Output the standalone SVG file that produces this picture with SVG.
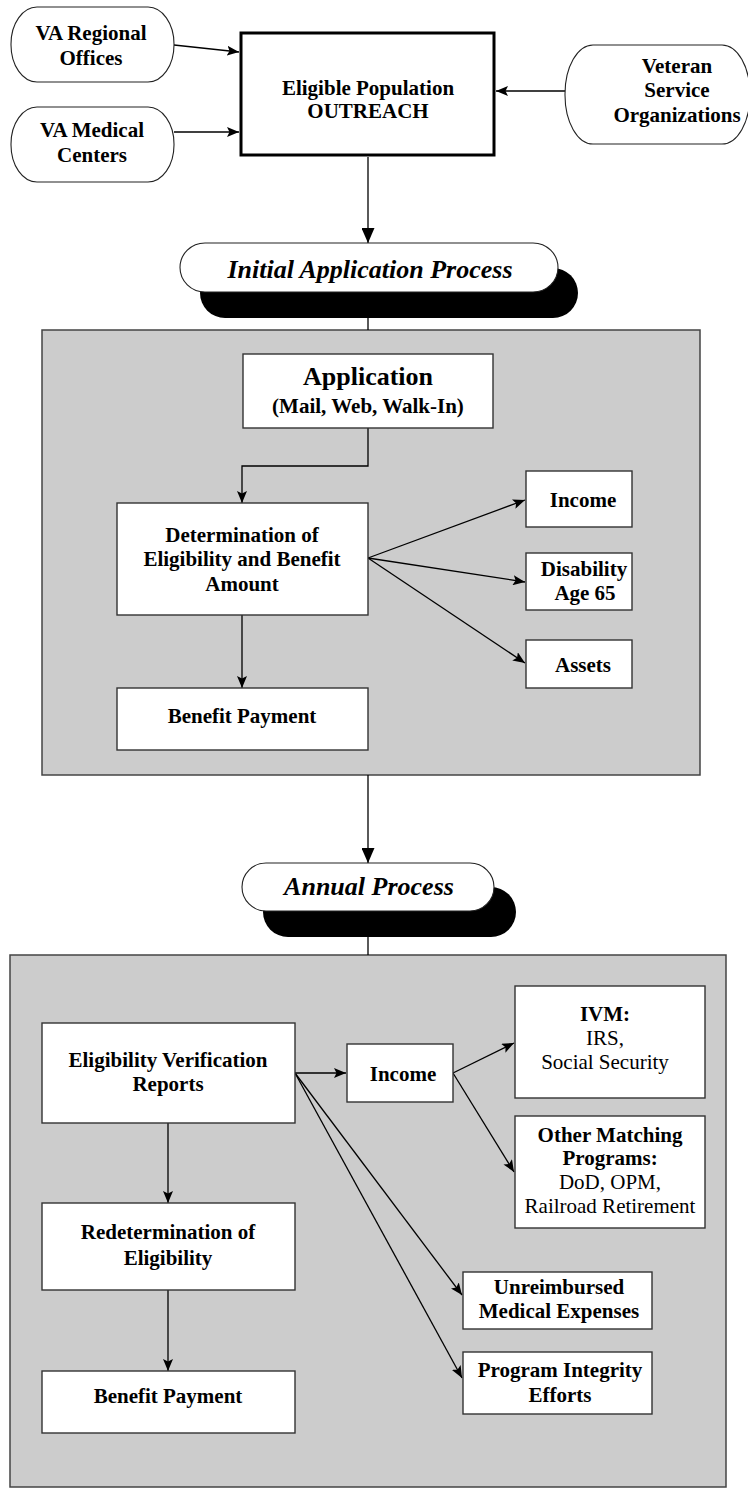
<svg xmlns="http://www.w3.org/2000/svg" width="748" height="1489" viewBox="0 0 748 1489">
  <style>
    .t { font-family: "Liberation Serif", "Times New Roman", serif; font-size: 21px; font-weight: bold; fill: #000; text-anchor: middle; }
    .r { font-weight: normal; }
    .big { font-size: 26px; }
    .stage { font-family: "Liberation Serif", "Times New Roman", serif; font-size: 26px; font-weight: bold; font-style: italic; fill: #000; text-anchor: middle; }
    .box { fill: #fff; stroke: #333; stroke-width: 1.4; }
    .oval { fill: #fff; stroke: #222; stroke-width: 1.1; }
    .panel { fill: #cccccc; stroke: #444; stroke-width: 1.5; }
    .pill { fill: #fff; stroke: #222; stroke-width: 1.1; }
    .shadow { fill: #000; }
    .c { fill: none; stroke: #000; stroke-width: 1.3; }
    .ca { fill: none; stroke: #000; stroke-width: 1.3; marker-end: url(#arrow); }
    .cb { fill: none; stroke: #000; stroke-width: 1.3; marker-end: url(#arrowBig); }
  </style>
  <defs>
    <marker id="arrow" viewBox="0 0 12 10" refX="12" refY="5" markerWidth="12" markerHeight="10" markerUnits="userSpaceOnUse" orient="auto">
      <path d="M0,0 L12,5 L0,10 L2.5,5 Z" fill="#000"/>
    </marker>
    <marker id="arrowBig" viewBox="0 0 15 13" refX="15" refY="6.5" markerWidth="15" markerHeight="13" markerUnits="userSpaceOnUse" orient="auto">
      <path d="M0,0 L15,6.5 L0,13 Z" fill="#000"/>
    </marker>
  </defs>

  <!-- process panels -->
  <rect id="panel-initial" class="panel" x="42" y="330" width="658" height="445"/>
  <rect id="panel-annual" class="panel" x="10" y="955" width="716" height="532"/>

  <!-- connectors -->
  <g id="connectors">
    <line class="ca" x1="174" y1="45" x2="239" y2="52"/>
    <line class="ca" x1="174" y1="132" x2="239" y2="132"/>
    <line class="ca" x1="565" y1="91" x2="496" y2="91"/>
    <line class="cb" x1="368" y1="157" x2="368" y2="243"/>
    <line class="c" x1="368" y1="318" x2="368" y2="330"/>
    <polyline class="ca" points="368,428 368,466 242,466 242,503"/>
    <line class="ca" x1="368" y1="558" x2="525" y2="500"/>
    <line class="ca" x1="368" y1="558" x2="525" y2="582"/>
    <line class="ca" x1="368" y1="558" x2="525" y2="663"/>
    <line class="ca" x1="242" y1="615" x2="242" y2="688"/>
    <line class="cb" x1="368" y1="775" x2="368" y2="863"/>
    <line class="c" x1="368" y1="937" x2="368" y2="955"/>
    <line class="ca" x1="295" y1="1073" x2="346" y2="1073"/>
    <line class="ca" x1="453" y1="1073" x2="514" y2="1043"/>
    <line class="ca" x1="453" y1="1073" x2="514" y2="1172"/>
    <line class="ca" x1="295" y1="1073" x2="462" y2="1295"/>
    <line class="ca" x1="295" y1="1073" x2="462" y2="1378"/>
    <line class="ca" x1="168" y1="1123" x2="168" y2="1203"/>
    <line class="ca" x1="168" y1="1290" x2="168" y2="1371"/>
  </g>

  <!-- outreach sources -->
  <g id="va-regional">
    <rect class="oval" x="11" y="7" width="163" height="75" rx="26" ry="37"/>
    <text class="t" x="91" y="40">VA Regional</text>
    <text class="t" x="91" y="65">Offices</text>
  </g>
  <g id="va-medical">
    <rect class="oval" x="11" y="107" width="163" height="75" rx="26" ry="37"/>
    <text class="t" x="92" y="137">VA Medical</text>
    <text class="t" x="92" y="162">Centers</text>
  </g>
  <g id="vso">
    <rect class="oval" x="565" y="45" width="185" height="99" rx="28" ry="49"/>
    <text class="t" x="677" y="73">Veteran</text>
    <text class="t" x="677" y="97">Service</text>
    <text class="t" x="677" y="122">Organizations</text>
  </g>
  <g id="outreach">
    <rect x="241" y="33" width="253" height="122" fill="#fff" stroke="#000" stroke-width="3"/>
    <text class="t" x="368" y="95">Eligible Population</text>
    <text class="t" x="368" y="118">OUTREACH</text>
  </g>

  <!-- initial application process -->
  <g id="stage-initial">
    <rect class="shadow" x="200" y="268" width="378" height="50" rx="25" ry="25"/>
    <rect class="pill" x="180" y="243" width="378" height="49" rx="25" ry="25"/>
    <text class="stage" x="370" y="278">Initial Application Process</text>
  </g>
  <g id="application">
    <rect class="box" x="243" y="354" width="250" height="74"/>
    <text class="t big" x="368" y="385">Application</text>
    <text class="t" x="368" y="413">(Mail, Web, Walk-In)</text>
  </g>
  <g id="determination">
    <rect class="box" x="117" y="503" width="251" height="112"/>
    <text class="t" x="242" y="542">Determination of</text>
    <text class="t" x="242" y="566">Eligibility and Benefit</text>
    <text class="t" x="242" y="591">Amount</text>
  </g>
  <g id="income-initial">
    <rect class="box" x="526" y="471" width="106" height="56"/>
    <text class="t" x="583" y="507">Income</text>
  </g>
  <g id="disability">
    <rect class="box" x="526" y="553" width="106" height="57"/>
    <text class="t" x="584" y="576">Disability</text>
    <text class="t" x="585" y="600">Age 65</text>
  </g>
  <g id="assets">
    <rect class="box" x="526" y="640" width="106" height="48"/>
    <text class="t" x="583" y="672">Assets</text>
  </g>
  <g id="payment-initial">
    <rect class="box" x="117" y="688" width="251" height="62"/>
    <text class="t" x="242" y="723">Benefit Payment</text>
  </g>

  <!-- annual process -->
  <g id="stage-annual">
    <rect class="shadow" x="263" y="887" width="253" height="50" rx="25" ry="25"/>
    <rect class="pill" x="242" y="863" width="252" height="48" rx="24" ry="24"/>
    <text class="stage" x="369" y="895">Annual Process</text>
  </g>
  <g id="evr">
    <rect class="box" x="42" y="1023" width="253" height="100"/>
    <text class="t" x="168" y="1067">Eligibility Verification</text>
    <text class="t" x="168" y="1091">Reports</text>
  </g>
  <g id="income-annual">
    <rect class="box" x="347" y="1044" width="106" height="58"/>
    <text class="t" x="403" y="1081">Income</text>
  </g>
  <g id="ivm">
    <rect class="box" x="515" y="986" width="190" height="112"/>
    <text class="t" x="605" y="1021">IVM:</text>
    <text class="t r" x="605" y="1045">IRS,</text>
    <text class="t r" x="605" y="1069">Social Security</text>
  </g>
  <g id="other-matching">
    <rect class="box" x="515" y="1116" width="190" height="112"/>
    <text class="t" x="610" y="1142">Other Matching</text>
    <text class="t" x="610" y="1165">Programs:</text>
    <text class="t r" x="610" y="1189">DoD, OPM,</text>
    <text class="t r" x="610" y="1213">Railroad Retirement</text>
  </g>
  <g id="redetermination">
    <rect class="box" x="42" y="1203" width="253" height="87"/>
    <text class="t" x="168" y="1239">Redetermination of</text>
    <text class="t" x="168" y="1265">Eligibility</text>
  </g>
  <g id="unreimbursed">
    <rect class="box" x="463" y="1272" width="189" height="57"/>
    <text class="t" x="559" y="1294">Unreimbursed</text>
    <text class="t" x="559" y="1318">Medical Expenses</text>
  </g>
  <g id="integrity">
    <rect class="box" x="463" y="1352" width="189" height="62"/>
    <text class="t" x="560" y="1377">Program Integrity</text>
    <text class="t" x="560" y="1402">Efforts</text>
  </g>
  <g id="payment-annual">
    <rect class="box" x="42" y="1371" width="253" height="62"/>
    <text class="t" x="168" y="1403">Benefit Payment</text>
  </g>
</svg>
